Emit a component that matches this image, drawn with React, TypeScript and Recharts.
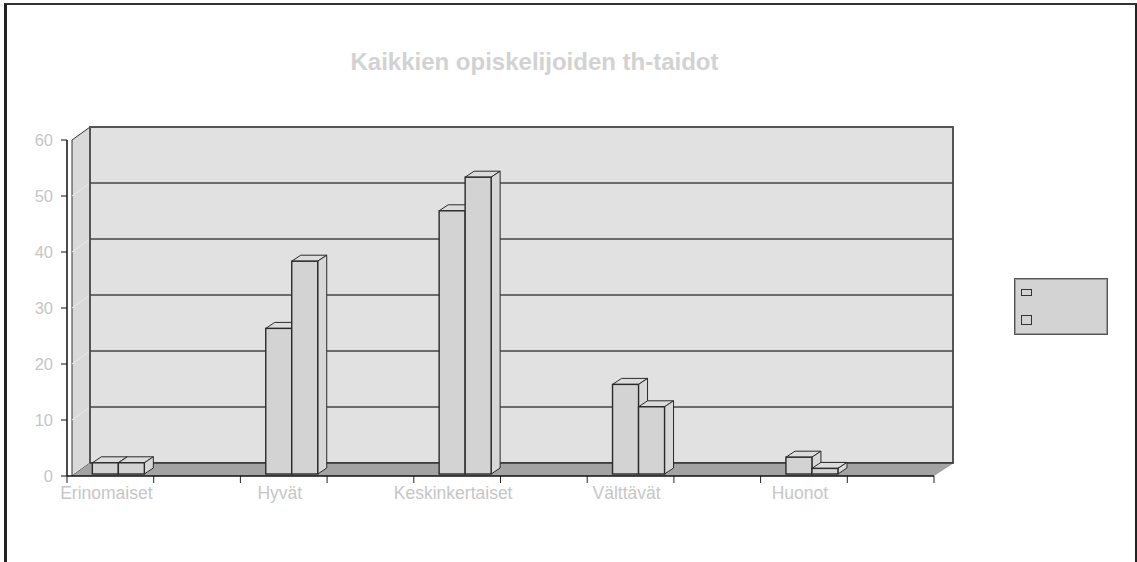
import { Bar, BarChart, ReferenceArea, XAxis, YAxis } from 'recharts'

const categories = ['Erinomaiset', '', 'Hyvät', '', 'Keskinkertaiset', '', 'Välttävät', '', 'Huonot', '']
const seriesA = [2, null, 26, null, 47, null, 16, null, 3, null]
const seriesB = [2, null, 38, null, 53, null, 12, null, 1, null]
const yTicks = [0, 10, 20, 30, 40, 50, 60]
const seriesKeys = ['a', 'b']

const data = categories.map((name, i) => ({ name, a: seriesA[i], b: seriesB[i] }))

const FONT = '"Liberation Sans", Arial, sans-serif'
const WALL_DX_L = 23
const WALL_DX_R = 19
const WALL_DY = -13
const Y_MAX = 60

// back wall, side wall, floor and gridlines, drawn from the plot rectangle
function Room(props: any) {
  const { x, y, width, height } = props
  const bottom = y + height
  const right = x + width
  const sideX = x + 5
  const backL = x + WALL_DX_L
  const backR = right + WALL_DX_R
  const toY = (v: number) => y + height * (1 - v / Y_MAX)
  return (
    <g>
      <polygon
        points={`${sideX},${bottom} ${sideX},${y} ${backL},${y + WALL_DY} ${backL},${bottom + WALL_DY}`}
        fill="#d9d9d9"
        stroke="#333"
        strokeWidth={1}
      />
      {yTicks.slice(1, -1).map((v) => (
        <line
          key={'s' + v}
          x1={sideX}
          y1={toY(v)}
          x2={backL}
          y2={toY(v) + WALL_DY}
          stroke="#ececec"
        />
      ))}
      <rect
        x={backL}
        y={y + WALL_DY}
        width={backR - backL}
        height={height}
        fill="#e1e1e2"
        stroke="#555"
        strokeWidth={2}
      />
      {yTicks.slice(1, -1).map((v) => (
        <line
          key={'g' + v}
          x1={backL}
          y1={toY(v) + WALL_DY}
          x2={backR}
          y2={toY(v) + WALL_DY}
          stroke="#444"
          strokeWidth={1.3}
        />
      ))}
      <polygon
        points={`${sideX},${bottom} ${backL},${bottom + WALL_DY} ${backR + 1},${bottom + WALL_DY} ${right},${bottom}`}
        fill="#a3a3a3"
      />
      <line x1={backL} y1={bottom + WALL_DY} x2={backR} y2={bottom + WALL_DY} stroke="#333" strokeWidth={1.5} />
      {categories.map((_, i) => (
        <line
          key={'t' + i}
          x1={x + (width * (i + 1)) / categories.length}
          y1={bottom}
          x2={x + (width * (i + 1)) / categories.length}
          y2={bottom + 7}
          stroke="#222"
        />
      ))}
      <line x1={x} y1={bottom} x2={x} y2={bottom + 7} stroke="#222" />
    </g>
  )
}

function Box3D(props: any) {
  const { x, y, width, height, value } = props
  if (value == null || !height) return null
  const fx = x + 8
  const fy = y - 2
  const dx = 9
  const dy = -6
  return (
    <g stroke="#2a2a2a" strokeWidth={1.4} strokeLinejoin="miter">
      <polygon
        points={`${fx},${fy} ${fx + dx},${fy + dy} ${fx + width + dx},${fy + dy} ${fx + width},${fy}`}
        fill="#dcdcdc"
        strokeWidth={1}
      />
      <polygon
        points={`${fx + width},${fy} ${fx + width + dx},${fy + dy} ${fx + width + dx},${fy + height + dy} ${fx + width},${fy + height}`}
        fill="#d8d8d8"
        strokeWidth={1}
      />
      <rect x={fx} y={fy} width={width} height={height} fill="#d3d3d4" />
    </g>
  )
}

export default function App() {
  return (
    <div style={{ position: 'absolute', left: 0, top: 0, width: 1137, height: 562, background: '#fff', fontFamily: FONT }}>
      <div
        style={{
          position: 'absolute',
          left: 4,
          top: 3,
          width: 1128,
          height: 600,
          borderLeft: '3px solid #222',
          borderTop: '2px solid #333',
          borderRight: '3px solid #222',
        }}
      />
      <div
        style={{
          position: 'absolute',
          left: 0,
          width: 1069,
          top: 48,
          textAlign: 'center',
          fontSize: 24,
          fontWeight: 'bold',
          color: '#d2d2d2',
        }}
      >
        Kaikkien opiskelijoiden th-taidot
      </div>
      <div style={{ position: 'absolute', left: 0, top: 0 }}>
        <BarChart
          width={1137}
          height={562}
          data={data}
          margin={{ top: 140, right: 203, bottom: 56, left: 0 }}
          barCategoryGap="20%"
          barGap={0}
        >
          <ReferenceArea y1={0} y2={Y_MAX} ifOverflow="visible" shape={<Room />} />
          <XAxis
            dataKey="name"
            height={30}
            tickLine={false}
            axisLine={{ stroke: '#111', strokeWidth: 1.5 }}
            tick={{ fill: '#c6c6c6', fontSize: 17.5, fontFamily: FONT, dx: -4 }}
            tickMargin={5}
            interval={0}
          />
          <YAxis
            width={67}
            domain={[0, Y_MAX]}
            ticks={yTicks}
            interval={0}
            tickSize={6}
            tickMargin={8}
            tickLine={{ stroke: '#111' }}
            axisLine={{ stroke: '#111', strokeWidth: 1.5 }}
            tick={{ fill: '#c6c6c6', fontSize: 16.5, fontFamily: FONT }}
          />
          {seriesKeys.map((k) => (
            <Bar key={k} dataKey={k} shape={<Box3D />} isAnimationActive={false} />
          ))}
        </BarChart>
      </div>
      <div
        style={{
          position: 'absolute',
          left: 1014,
          top: 278,
          width: 92,
          height: 55,
          background: '#d3d3d3',
          border: '1px solid #555',
          boxShadow: 'inset 0 0 0 1px #999',
        }}
      >
        {seriesKeys.map((k, i) => (
          <div
            key={k}
            style={{
              position: 'absolute',
              left: 6,
              top: i === 0 ? 10 : 36,
              width: 9,
              height: i === 0 ? 5 : 8,
              background: '#d3d3d3',
              border: '1px solid #333',
            }}
          />
        ))}
      </div>
    </div>
  )
}
